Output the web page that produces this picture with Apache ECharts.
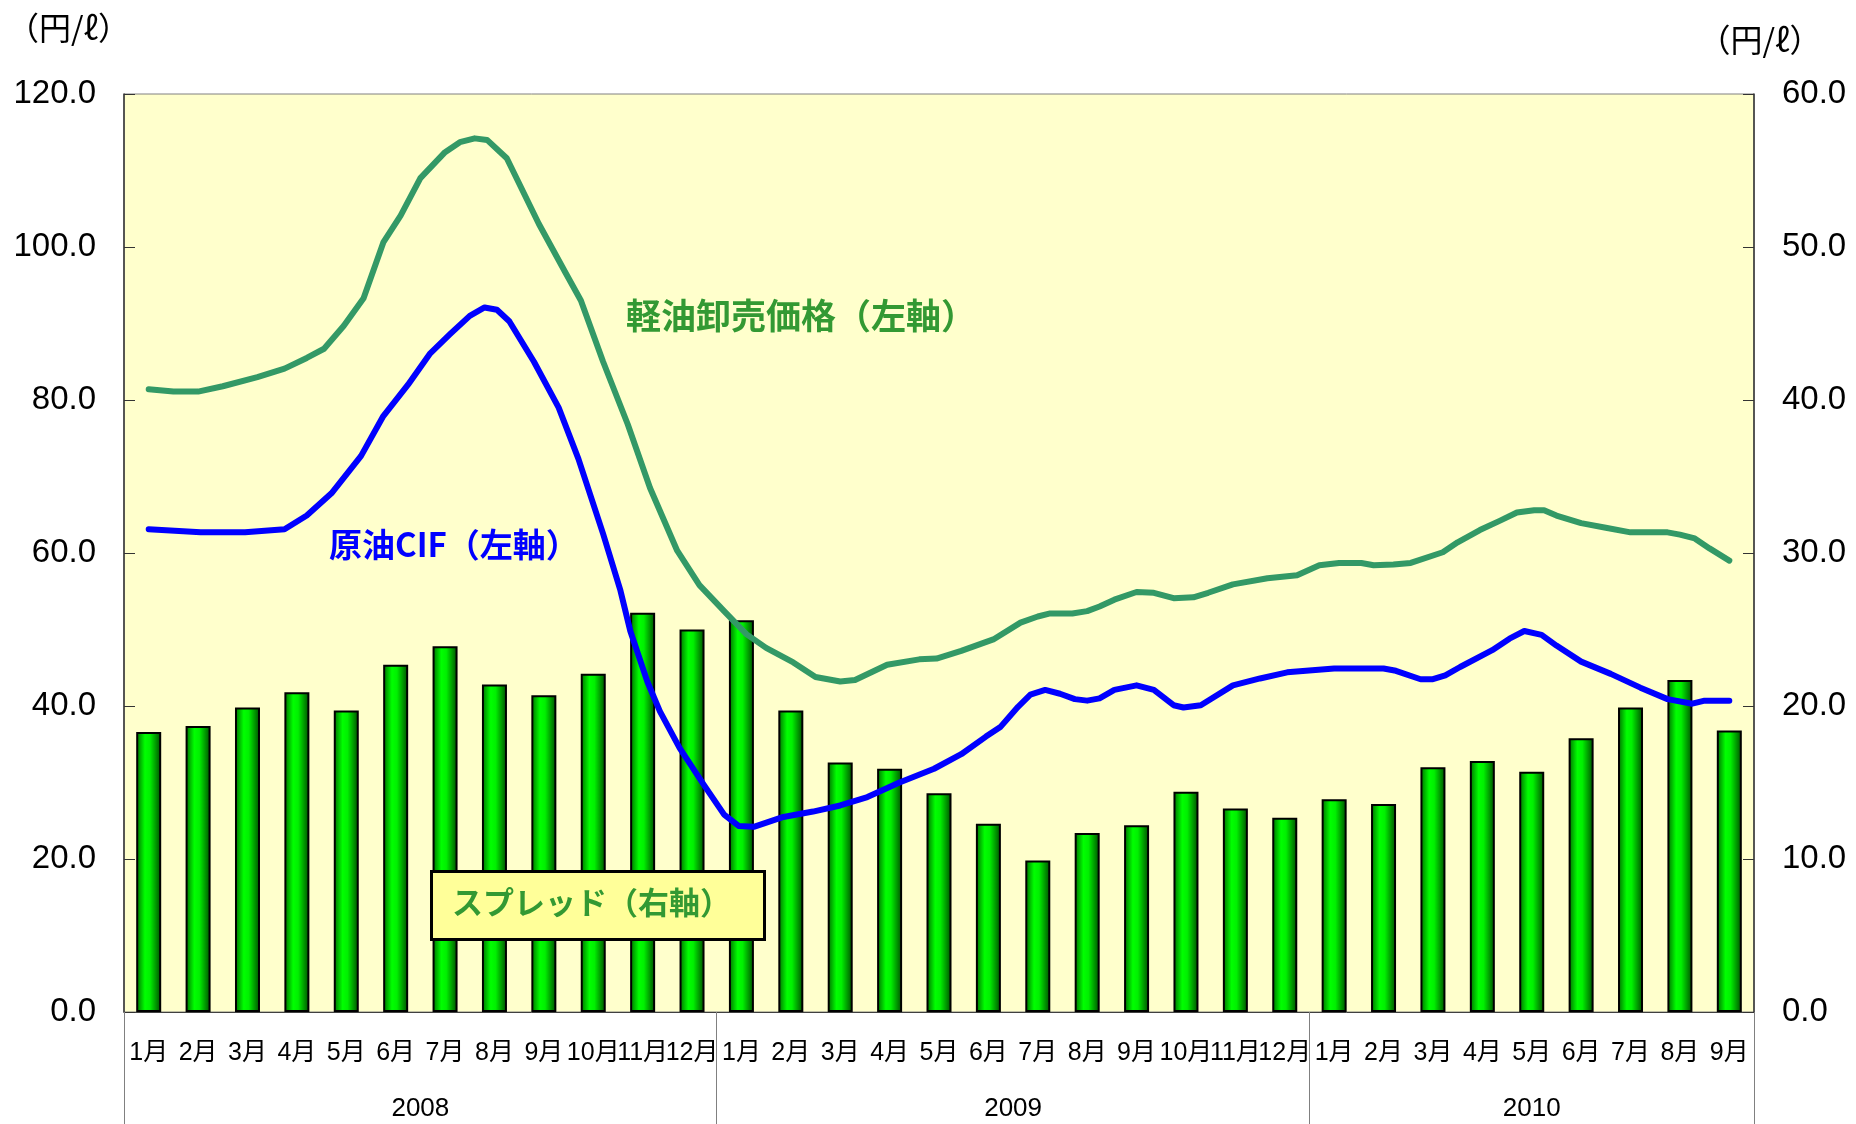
<!DOCTYPE html>
<html>
<head>
<meta charset="utf-8">
<script src="https://cdn.jsdelivr.net/npm/echarts@6/dist/echarts.min.js"></script>
<style>
html,body{margin:0;padding:0;background:#fff;}
#chart{width:1856px;height:1124px;}
</style>
</head>
<body>
<div id="chart"></div>
<script>
// ---- data ----
const months = ['1月','2月','3月','4月','5月','6月','7月','8月','9月','10月','11月','12月',
                '1月','2月','3月','4月','5月','6月','7月','8月','9月','10月','11月','12月',
                '1月','2月','3月','4月','5月','6月','7月','8月','9月'];
const years = ['2008','2009','2010'];
const yearMonthCounts = [12, 12, 9];

// スプレッド（右軸） monthly
const spread = [18.3, 18.7, 19.9, 20.9, 19.7, 22.7, 23.9, 21.4, 20.7, 22.1, 26.1, 25.0,
                25.6, 19.7, 16.3, 15.9, 14.3, 12.3, 9.9, 11.7, 12.2, 14.4, 13.3, 12.7,
                13.9, 13.6, 16.0, 16.4, 15.7, 17.9, 19.9, 21.7, 18.4];

// 軽油卸売価格（左軸）: [month position (0 = Jan 2008), value]
const diesel = [[0,81.4],[0.5,81.1],[1.0,81.1],[1.5,81.8],[2.2,83.0],[2.75,84.1],[3.2,85.5],[3.55,86.7],
  [3.95,89.7],[4.35,93.3],[4.75,100.6],[5.1,104.1],[5.5,109.0],[6.0,112.4],[6.3,113.7],[6.6,114.2],
  [6.85,114.0],[7.25,111.6],[7.9,103.0],[8.45,96.5],[8.75,93.0],[9.2,85.0],[9.7,76.8],[10.15,68.5],
  [10.7,60.3],[11.15,55.8],[11.65,52.4],[12.1,49.4],[12.5,47.6],[13.05,45.7],[13.5,43.8],[14.0,43.2],
  [14.3,43.4],[14.95,45.4],[15.6,46.1],[15.95,46.2],[16.45,47.2],[17.1,48.7],[17.65,50.9],[18.0,51.7],
  [18.25,52.1],[18.7,52.1],[19.0,52.4],[19.25,53.0],[19.55,53.9],[20.0,54.9],[20.35,54.8],[20.75,54.1],
  [21.15,54.2],[21.45,54.8],[21.95,55.9],[22.65,56.7],[23.25,57.1],[23.7,58.4],[24.1,58.7],[24.55,58.7],
  [24.8,58.4],[25.2,58.5],[25.55,58.7],[26.2,60.1],[26.5,61.4],[26.95,63.0],[27.35,64.2],[27.7,65.3],
  [28.05,65.6],[28.25,65.6],[28.5,64.9],[29.0,63.9],[29.5,63.3],[30.0,62.7],[30.75,62.7],[31.0,62.4],
  [31.3,61.9],[31.6,60.6],[32.0,59.0]];

// 原油CIF（左軸）: [month position, value]
const crude = [[0,63.1],[1.05,62.7],[1.95,62.7],[2.75,63.1],[3.2,64.9],[3.7,67.8],[4.3,72.7],[4.75,77.9],
  [5.25,82.0],[5.7,86.1],[6.1,88.6],[6.5,91.0],[6.8,92.1],[7.05,91.8],[7.3,90.3],[7.8,85.0],[8.3,79.0],
  [8.7,72.3],[9.2,62.5],[9.55,55.1],[9.75,49.8],[10.1,43.1],[10.35,39.3],[10.75,34.5],[11.25,29.6],
  [11.65,25.8],[11.95,24.3],[12.25,24.2],[12.85,25.5],[13.45,26.2],[14.0,27.0],[14.55,28.1],[15.2,30.0],
  [15.9,31.8],[16.45,33.7],[16.95,36.0],[17.25,37.3],[17.6,39.9],[17.85,41.5],[18.15,42.1],[18.45,41.6],
  [18.75,40.9],[19.0,40.7],[19.25,41.0],[19.55,42.1],[20.0,42.7],[20.35,42.1],[20.75,40.1],[20.95,39.8],
  [21.3,40.1],[21.95,42.7],[22.5,43.6],[23.05,44.4],[24.0,44.9],[25.0,44.9],[25.25,44.6],[25.75,43.5],
  [26.0,43.5],[26.25,44.0],[26.55,45.1],[27.2,47.3],[27.55,48.8],[27.85,49.8],[28.2,49.3],[28.5,47.9],
  [29.0,45.8],[29.6,44.2],[30.2,42.4],[30.75,40.9],[31.25,40.3],[31.5,40.7],[32.0,40.7]];

const leftTicks = {min: 0, max: 120, interval: 20};
const rightTicks = {min: 0, max: 60, interval: 10};

// ---- year axis (half-month slots) ----
const nMonths = months.length;
const yearCats = new Array(nMonths * 2 + 1).fill('');
const yearSep = new Set();
let b = 0;
yearSep.add(0);
years.forEach((y, i) => {
  const e = b + yearMonthCounts[i];
  yearCats[b + e] = y;
  yearSep.add(2 * e);
  b = e;
});

const numFont = "'Liberation Sans', Arial, 'Noto Sans CJK JP', sans-serif";
const jpFont = "'Noto Sans CJK JP', 'Liberation Sans', sans-serif";
const monthFont = "'Liberation Sans Narrow', 'Liberation Sans', 'Noto Sans CJK JP', sans-serif";

const chart = echarts.init(document.getElementById('chart'), null, {renderer: 'canvas'});
chart.setOption({
  animation: false,
  backgroundColor: '#ffffff',
  grid: {left: 124, top: 94, right: 102, bottom: 112, show: true, containLabel: false,
         outerBoundsMode: 'none',
         backgroundColor: '#FFFFCC', borderColor: '#808080', borderWidth: 1},
  xAxis: [
    {type: 'category', data: months, boundaryGap: true, position: 'bottom',
     axisLine: {show: true, onZero: false, lineStyle: {color: '#404040', width: 1}},
     axisTick: {show: false},
     axisLabel: {interval: 0, color: '#000', fontSize: 25, fontFamily: monthFont, margin: 29},
     splitLine: {show: false}},
    {type: 'value', min: -0.5, max: 32.5, show: false},
    {type: 'category', data: yearCats, boundaryGap: false, position: 'bottom', offset: 0,
     axisLine: {show: false, onZero: false},
     axisTick: {show: true, interval: (idx) => yearSep.has(idx), length: 112,
                lineStyle: {color: '#808080', width: 1}},
     axisLabel: {interval: (idx, v) => v !== '', color: '#000', fontSize: 26,
                 fontFamily: numFont, margin: 84},
     splitLine: {show: false}}
  ],
  yAxis: [
    {type: 'value', position: 'left', min: leftTicks.min, max: leftTicks.max, interval: leftTicks.interval,
     axisLine: {show: true, onZero: false, lineStyle: {color: '#333', width: 1.5}},
     axisTick: {show: true, inside: true, length: 11, lineStyle: {color: '#333'}},
     axisLabel: {formatter: v => v.toFixed(1), color: '#000', fontSize: 33, fontFamily: numFont, margin: 28},
     splitLine: {show: false},
     name: '（円/ℓ）', nameLocation: 'end', nameGap: 66,
     nameTextStyle: {color: '#000', fontSize: 32, fontFamily: jpFont, align: 'center',
                     verticalAlign: 'middle', padding: [0, 111, 0, 0]}},
    {type: 'value', position: 'right', min: rightTicks.min, max: rightTicks.max, interval: rightTicks.interval,
     axisLine: {show: true, onZero: false, lineStyle: {color: '#333', width: 1.5}},
     axisTick: {show: true, inside: true, length: 11, lineStyle: {color: '#333'}},
     axisLabel: {formatter: v => v.toFixed(1), color: '#000', fontSize: 33, fontFamily: numFont, margin: 28},
     splitLine: {show: false},
     name: '（円/ℓ）', nameLocation: 'end', nameGap: 54,
     nameTextStyle: {color: '#000', fontSize: 32, fontFamily: jpFont, align: 'center',
                     verticalAlign: 'middle', padding: [0, 0, 0, 12]}}
  ],
  series: [
    {name: 'スプレッド（右軸）', type: 'bar', xAxisIndex: 0, yAxisIndex: 1, data: spread,
     barWidth: 25, z: 2,
     itemStyle: {
       color: new echarts.graphic.LinearGradient(0, 0, 1, 0, [
         {offset: 0, color: '#006a00'},
         {offset: 0.35, color: '#00ff00'},
         {offset: 0.55, color: '#00f000'},
         {offset: 1, color: '#004a00'}
       ]),
       borderColor: '#000', borderWidth: 2
     }},
    {name: '軽油卸売価格（左軸）', type: 'line', xAxisIndex: 1, yAxisIndex: 0, data: diesel,
     symbol: 'none', z: 4, lineStyle: {color: '#339966', width: 6, join: 'round', cap: 'round'}},
    {name: '原油CIF（左軸）', type: 'line', xAxisIndex: 1, yAxisIndex: 0, data: crude,
     symbol: 'none', z: 5, lineStyle: {color: '#0000FF', width: 6, join: 'round', cap: 'round'}}
  ],
  graphic: [
    {type: 'text', left: 626, top: 298, z: 10,
     style: {text: '軽油卸売価格（左軸）', fill: '#339933', font: 'bold 35px ' + jpFont}},
    {type: 'text', left: 329, top: 528, z: 10,
     style: {text: '原油CIF（左軸）', fill: '#0000FF', font: 'bold 33px ' + jpFont}},
    {type: 'rect', left: 430, top: 870, z: 10,
     shape: {width: 333, height: 68},
     style: {fill: '#FFFF99', stroke: '#000', lineWidth: 3}},
    {type: 'text', left: 452, top: 887, z: 11,
     style: {text: 'スプレッド（右軸）', fill: '#339933', font: 'bold 31px ' + jpFont}}
  ]
});
</script>
</body>
</html>
